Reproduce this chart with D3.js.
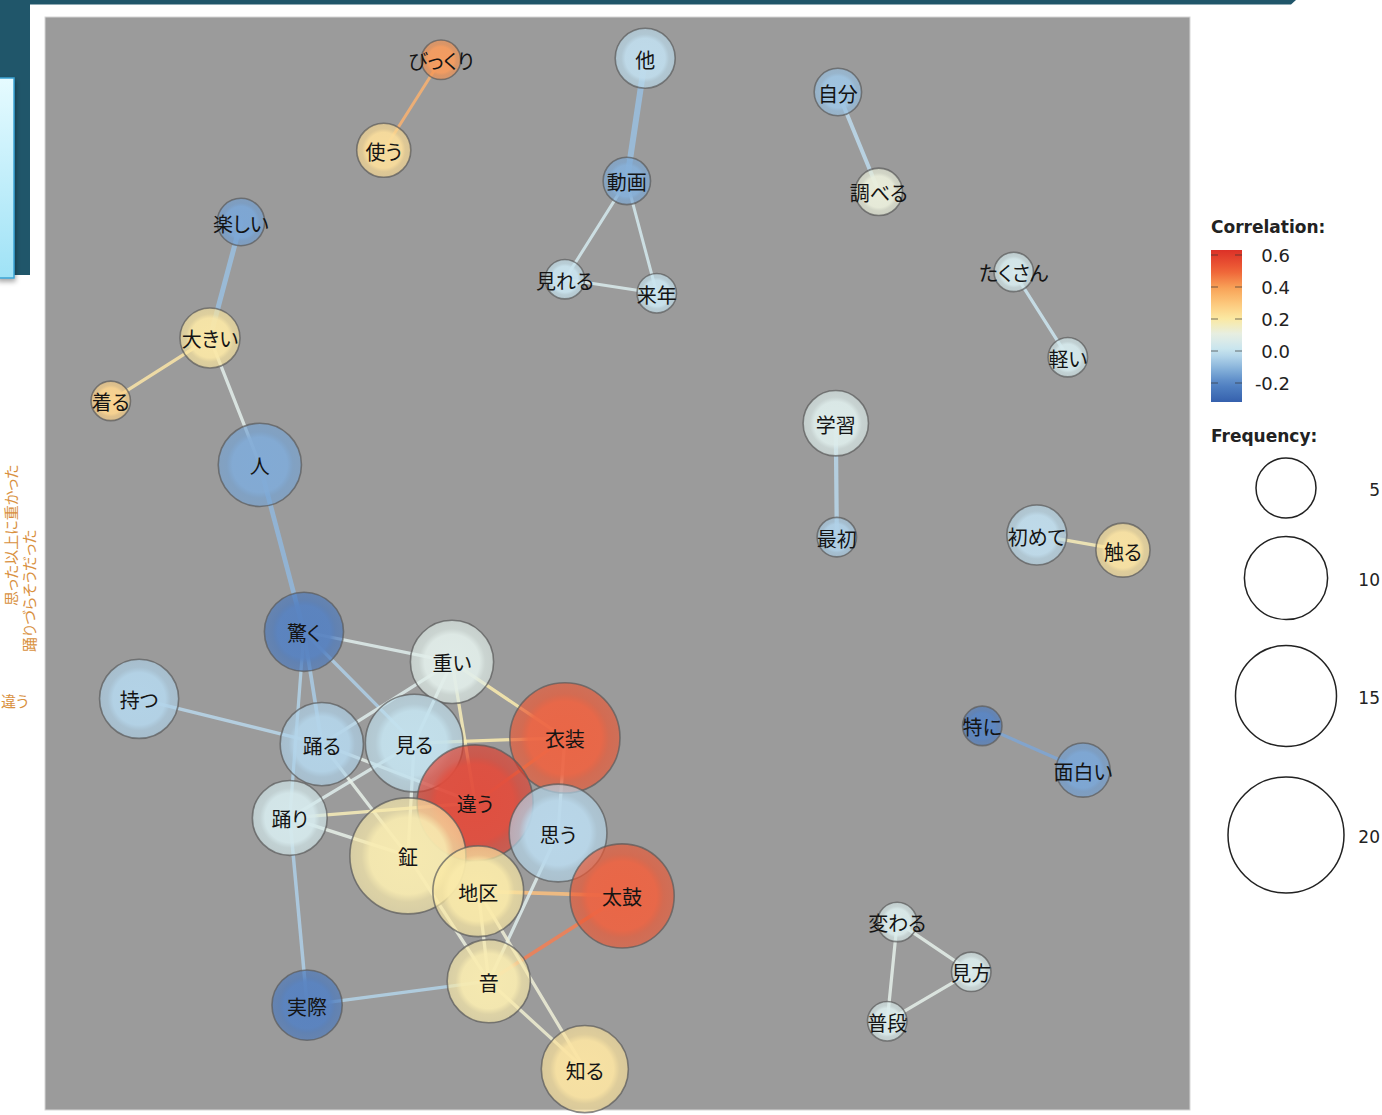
<!DOCTYPE html>
<html><head><meta charset="utf-8">
<script src="https://cdn.jsdelivr.net/npm/d3@7"></script>
<style>
html,body{margin:0;padding:0;background:#fff;overflow:hidden}
svg{display:block}
.lbl{font-family:"Noto Sans CJK JP","Noto Sans CJK SC",sans-serif;font-feature-settings:"palt";}
</style></head><body>
<svg id="c" width="1382" height="1115"></svg>
<script>
// ---------------- data ----------------
const words   = ["びっくり","使う","他","動画","見れる","来年","自分","調べる","楽しい","大きい","着る","人","たくさん","軽い","学習","最初","初めて","触る","特に","面白い","変わる","見方","普段","驚く","重い","持つ","踊る","見る","衣装","違う","踊り","鉦","思う","地区","太鼓","音","実際","知る"];
const freqs   = [2,4,5,3,2,2,3,3,3,5,2,10,2,2,6,2,5,4,2,4,2,2,2,9,10,9,10,14,18,20,8,20,14,12,16,10,7,11];
const corrs   = [0.42,0.24,-0.02,-0.13,0.0,0.0,-0.08,0.12,-0.15,0.21,0.27,-0.14,0.04,0.04,0.07,-0.05,-0.02,0.22,-0.24,-0.15,0.06,0.06,0.06,-0.25,0.08,-0.04,-0.04,-0.01,0.53,0.6,0.04,0.19,-0.03,0.2,0.53,0.19,-0.25,0.22];
const layoutX = [-0.341,-0.450,0.048,0.013,-0.105,0.070,0.415,0.493,-0.722,-0.781,-0.970,-0.686,0.750,0.853,0.411,0.413,0.794,0.958,0.690,0.882,0.528,0.669,0.509,-0.602,-0.320,-0.916,-0.568,-0.392,-0.105,-0.276,-0.629,-0.404,-0.118,-0.270,0.004,-0.250,-0.596,-0.067];
const layoutY = [0.962,0.788,0.965,0.729,0.540,0.513,0.900,0.708,0.650,0.427,0.306,0.183,0.554,0.390,0.263,0.044,0.048,0.019,-0.319,-0.404,-0.696,-0.792,-0.887,-0.138,-0.196,-0.267,-0.354,-0.352,-0.342,-0.467,-0.496,-0.569,-0.525,-0.637,-0.646,-0.810,-0.856,-0.979];

const edgeFrom = ["びっくり","他","動画","動画","見れる","自分","楽しい","大きい","大きい","人","たくさん","学習","初めて","特に","変わる","変わる","見方","驚く","驚く","驚く","驚く","持つ","重い","重い","重い","重い","見る","見る","見る","踊る","踊る","踊り","踊り","踊り","衣装","衣装","地区","太鼓","思う","地区","鉦","地区","音","音"];
const edgeTo   = ["使う","動画","見れる","来年","来年","調べる","大きい","着る","人","驚く","軽い","最初","触る","面白い","見方","普段","普段","重い","踊る","踊り","見る","踊る","衣装","見る","踊る","違う","衣装","踊り","鉦","鉦","違う","鉦","違う","実際","思う","違う","太鼓","音","音","音","音","知る","知る","実際"];
const edgeCorr = [0.38,-0.1,0.03,0.03,0.05,-0.03,-0.1,0.22,0.08,-0.12,0.0,-0.04,0.18,-0.16,0.09,0.09,0.09,0.07,-0.07,-0.05,-0.06,-0.04,0.2,0.07,0.07,0.18,0.2,0.07,0.1,0.1,0.09,0.1,0.18,-0.06,0.1,0.45,0.34,0.48,0.07,0.12,0.12,0.13,0.14,-0.05];
const edgeCoef = [0.18,0.42,0.18,0.18,0.18,0.26,0.34,0.2,0.2,0.32,0.2,0.28,0.2,0.2,0.2,0.2,0.2,0.2,0.24,0.2,0.2,0.2,0.2,0.2,0.2,0.2,0.2,0.2,0.2,0.2,0.2,0.2,0.2,0.22,0.2,0.2,0.24,0.24,0.2,0.2,0.2,0.2,0.2,0.2];

const corrTicks = [0.6,0.4,0.2,0.0,-0.2];
const freqTicks = [5,10,15,20];
const sideNotes = ["思った以上に重かった","踊りづらそうだった","違う"];

const colorStops = [-0.32,-0.2,-0.1,0.0,0.1,0.2,0.3,0.4,0.5,0.63];
const colorRange = ['#3560ad','#5687c6','#8cb7dd','#c5e3ef','#e5efe6','#fbe9a3','#fcc77a','#f89f56','#ef6237','#dc3127'];

// ---------------- scales ----------------
const svg = d3.select("#c");
const x = d3.scaleLinear().domain([-1,1]).range([95,1145]);
const y = d3.scaleLinear().domain([-1,1]).range([1080,40]);
const color = d3.scaleLinear().domain(colorStops).range(colorRange).interpolate(d3.interpolateRgb).clamp(true);
const rScale = d3.scaleSqrt().domain([0,20]).range([2,58]);
const wScale = d3.scaleLinear().domain([0.1,0.5]).range([2,7]);

// ---------------- page decoration ----------------
const defs = svg.append("defs");
const boxG = defs.append("linearGradient").attr("id","boxg").attr("x1",0).attr("y1",0).attr("x2",0).attr("y2",1);
boxG.append("stop").attr("offset","0%").attr("stop-color","#e6fbff");
boxG.append("stop").attr("offset","100%").attr("stop-color","#9fe2f6");
const sh = defs.append("filter").attr("id","sh").attr("x","-50%").attr("y","-50%").attr("width","200%").attr("height","200%");
sh.append("feDropShadow").attr("dx",1).attr("dy",3).attr("stdDeviation",2.5).attr("flood-color","#000").attr("flood-opacity",0.35);

svg.append("path").attr("d","M0,0 L1296,0 L1291,4.5 L0,4.5 Z").attr("fill","#20566a");
svg.append("rect").attr("x",0).attr("y",0).attr("width",30).attr("height",275).attr("fill","#20566a");
svg.append("rect").attr("x",-3).attr("y",78).attr("width",17).attr("height",200).attr("fill","url(#boxg)")
  .attr("stroke","#3aa3d4").attr("stroke-width",1.5).attr("filter","url(#sh)");

// side notes (orange)
const noteG = svg.append("g").attr("class","lbl").attr("fill","#d9913f").attr("font-size",15);
noteG.append("text").attr("transform","translate(10,606) rotate(-90)").attr("dominant-baseline","central").text(sideNotes[0]);
noteG.append("text").attr("transform","translate(28,652) rotate(-90)").attr("dominant-baseline","central").text(sideNotes[1]);
noteG.append("text").attr("x",1).attr("y",700).attr("text-anchor","start").attr("dominant-baseline","central").text(sideNotes[2]);

// plot panel
svg.append("rect").attr("x",45).attr("y",17).attr("width",1145).attr("height",1093)
  .attr("fill","#9b9b9b").attr("stroke","#d6d6d6").attr("stroke-width",1);

// ---------------- network ----------------
const nodes = words.map((w,i)=>({w, f:freqs[i], c:corrs[i], lx:layoutX[i], ly:layoutY[i]}));
const byName = new Map(nodes.map(n=>[n.w,n]));
const edges = edgeFrom.map((s,i)=>({s:byName.get(s), t:byName.get(edgeTo[i]), c:edgeCorr[i], k:edgeCoef[i]}));

svg.append("g").selectAll("line").data(edges).join("line")
  .attr("x1",d=>x(d.s.lx)).attr("y1",d=>y(d.s.ly))
  .attr("x2",d=>x(d.t.lx)).attr("y2",d=>y(d.t.ly))
  .attr("stroke",d=>d3.interpolateRgb(color(d.c),"#ffffff")(0.12))
  .attr("stroke-opacity",0.85)
  .attr("stroke-width",d=>wScale(d.k))
  .attr("stroke-linecap","round");

nodes.forEach((n,i)=>{
  const base = color(n.c);
  const g = defs.append("radialGradient").attr("id","ng"+i);
  const inner = d3.interpolateRgb(base,"#ffffff")(0.08);
  g.append("stop").attr("offset","0%").attr("stop-color",inner).attr("stop-opacity",0.96);
  g.append("stop").attr("offset","66%").attr("stop-color",inner).attr("stop-opacity",0.93);
  g.append("stop").attr("offset","80%").attr("stop-color",base).attr("stop-opacity",0.7);
  g.append("stop").attr("offset","100%").attr("stop-color",base).attr("stop-opacity",0.64);
});

svg.append("g").selectAll("circle").data(nodes).join("circle")
  .attr("cx",d=>x(d.lx)).attr("cy",d=>y(d.ly)).attr("r",d=>rScale(d.f))
  .attr("fill",(d,i)=>`url(#ng${i})`)
  .attr("stroke","#5a5a5a").attr("stroke-opacity",0.7).attr("stroke-width",1.6);

svg.append("g").attr("class","lbl").selectAll("text").data(nodes).join("text")
  .attr("x",d=>x(d.lx)).attr("y",d=>y(d.ly)+1)
  .attr("text-anchor","middle").attr("dominant-baseline","central")
  .attr("font-size",20).attr("fill","#141414")
  .text(d=>d.w);

// ---------------- legend ----------------
const leg = svg.append("g").attr("font-family","'DejaVu Sans',Verdana,sans-serif");
leg.append("text").attr("x",1211).attr("y",233).attr("font-size",17).attr("font-weight","bold").attr("fill","#222").text("Correlation:");

const by = d3.scaleLinear().domain([-0.2,0.6]).range([383,255]);
const barTop = by.invert(250), barBot = by.invert(402);
const lg = defs.append("linearGradient").attr("id","barg").attr("x1",0).attr("y1",0).attr("x2",0).attr("y2",1);
d3.range(0,1.0001,0.05).forEach(t=>{
  const v = barTop + (barBot-barTop)*t;
  lg.append("stop").attr("offset",(t*100)+"%").attr("stop-color",color(v));
});
leg.append("rect").attr("x",1211).attr("y",250).attr("width",31).attr("height",152).attr("fill","url(#barg)");
corrTicks.forEach(v=>{
  const yy = by(v);
  leg.append("line").attr("x1",1211).attr("x2",1218).attr("y1",yy).attr("y2",yy).attr("stroke","#333").attr("stroke-opacity",0.55).attr("stroke-width",1.2);
  leg.append("line").attr("x1",1235).attr("x2",1242).attr("y1",yy).attr("y2",yy).attr("stroke","#333").attr("stroke-opacity",0.55).attr("stroke-width",1.2);
  leg.append("text").attr("x",1290).attr("y",yy).attr("text-anchor","end").attr("dominant-baseline","central")
    .attr("font-size",18).attr("fill","#222").text(d3.format(".1f")(v).replace("−","-"));
});

leg.append("text").attr("x",1211).attr("y",442).attr("font-size",17).attr("font-weight","bold").attr("fill","#222").text("Frequency:");
const fy = d3.scaleOrdinal().domain(freqTicks).range([488,578,696,835]);
freqTicks.forEach(f=>{
  leg.append("circle").attr("cx",1286).attr("cy",fy(f)).attr("r",rScale(f)).attr("fill","none").attr("stroke","#222").attr("stroke-width",1.5);
  leg.append("text").attr("x",1380).attr("y",fy(f)+2).attr("text-anchor","end").attr("dominant-baseline","central")
    .attr("font-size",17).attr("fill","#222").text(f);
});
</script>
</body></html>
